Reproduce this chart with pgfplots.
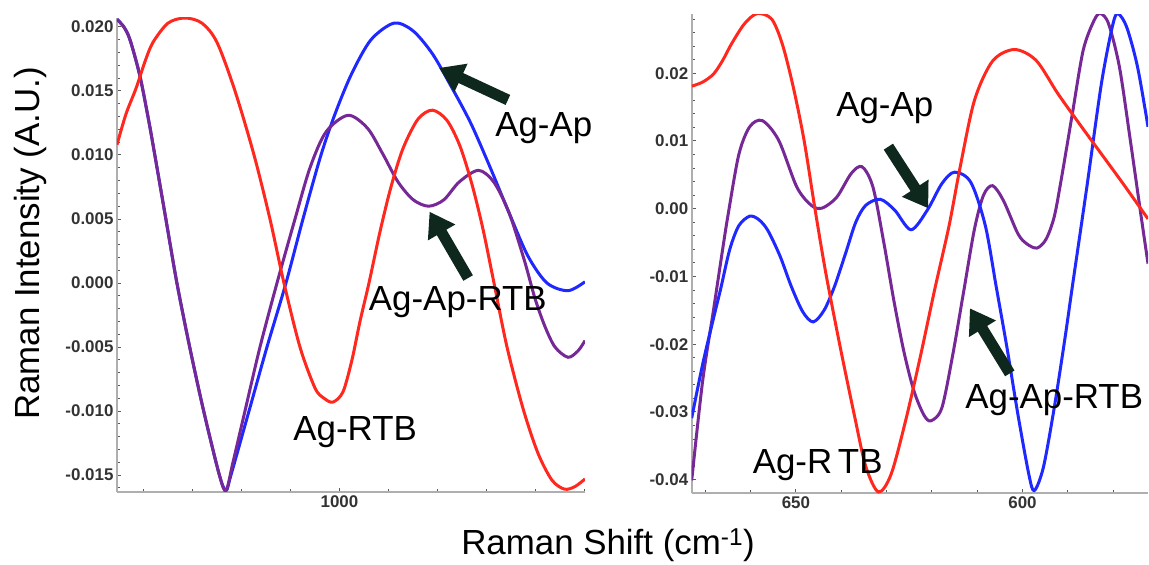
\documentclass[border=0pt]{standalone}
\usepackage{fontspec}
\setmainfont{Liberation Sans}
\usepackage{pgfplots}
\pgfplotsset{compat=1.18}
\usetikzlibrary{arrows.meta}
\definecolor{cred}{RGB}{255,40,30}
\definecolor{cblue}{RGB}{30,40,255}
\definecolor{cpurple}{RGB}{118,40,150}
\definecolor{carrow}{RGB}{15,40,30}
\definecolor{axgray}{RGB}{175,175,175}

\pgfplotsset{
  myaxis/.style={
    scale only axis, anchor=south west,
    x dir=reverse,
    scaled y ticks=false, scaled x ticks=false,
    axis x line*=bottom, axis y line*=left,
    axis line style={axgray, line width=2bp},
    tick align=inside,
    major tick length=4bp, minor tick length=3bp,
    every tick/.style={black!65, line width=1bp},
    tick label style={font=\fontsize{17}{20}\selectfont\bfseries, text=black!80},
    clip mode=individual,
    every axis plot/.append style={line width=3bp, smooth, no markers},
  },
}
\newcommand{\bigfont}{\fontsize{35}{40}\selectfont}
\tikzset{bigarrow/.style={carrow, line width=11bp, -{Triangle[width=30bp,length=24bp]}}}

\begin{document}
\begin{tikzpicture}
\path[use as bounding box] (0,0) rectangle (1149bp,565bp);

% ---------------- left panel ----------------
\begin{axis}[myaxis,
  at={(117bp,73.3bp)}, width=468bp, height=473.7bp,
  xmin=950, xmax=1045.3, ymin=-0.0163, ymax=0.0207,
  xtick={1000}, xticklabels={1000},
  minor xtick={950,960,970,980,990,1010,1020,1030,1040},
  ytick={-0.015,-0.010,-0.005,0,0.005,0.010,0.015,0.020},
  yticklabels={-0.015,-0.010,-0.005,0.000,0.005,0.010,0.015,0.020},
  minor ytick={-0.016,-0.014,-0.013,-0.012,-0.011,-0.009,-0.008,-0.007,-0.006,-0.004,-0.003,-0.002,-0.001,0.001,0.002,0.003,0.004,0.006,0.007,0.008,0.009,0.011,0.012,0.013,0.014,0.016,0.017,0.018,0.019},
]
% Ag-Ap (blue)
\addplot[cblue] coordinates {
(1045.30,0.0206) (1043.90,0.0200) (1042.65,0.0190) (1040.65,0.0162) (1038.85,0.0127)
(1037.60,0.0100) (1035.35,0.0050) (1033.10,0.0000) (1030.50,-0.0050) (1027.65,-0.0100)
(1024.45,-0.0150) (1023.10,-0.0162) (1022.09,-0.0150) (1018.42,-0.0100) (1014.76,-0.0050)
(1010.89,0.0000) (1007.43,0.0050) (1003.76,0.0100) (1000.71,0.0134) (997.45,0.0164)
(993.58,0.0190) (988.90,0.0203) (985.03,0.0197) (981.06,0.0179) (977.17,0.0153)
(973.28,0.0125) (969.39,0.0091) (965.48,0.0055) (961.61,0.0021) (957.74,0.0000)
(953.46,-0.0006) (950.00,0.0001)
};
% Ag-Ap-RTB (purple)
\addplot[cpurple] coordinates {
(1045.30,0.0206) (1043.90,0.0200) (1042.65,0.0190) (1040.65,0.0162) (1038.85,0.0127)
(1037.60,0.0100) (1035.35,0.0050) (1033.10,0.0000) (1030.50,-0.0050) (1027.65,-0.0100)
(1024.45,-0.0150) (1023.10,-0.0162) (1021.68,-0.0140) (1019.24,-0.0100) (1016.18,-0.0050)
(1012.72,0.0000) (1009.05,0.0050) (1006.00,0.0090) (1002.74,0.0118) (998.26,0.0131)
(994.31,0.0121) (991.20,0.0101) (988.08,0.0079) (984.97,0.0065) (981.85,0.0060)
(978.74,0.0065) (975.60,0.0079) (971.71,0.0088) (968.60,0.0079) (965.48,0.0055)
(962.37,0.0018) (960.19,-0.0012) (958.15,-0.0034) (956.11,-0.0050) (953.46,-0.0058)
(951.42,-0.0053) (950.00,-0.0045)
};
% Ag-RTB (red)
\addplot[cred] coordinates {
(1045.30,0.0108) (1043.47,0.0132) (1041.43,0.0152) (1039.60,0.0173) (1037.97,0.0188)
(1034.91,0.0203) (1031.46,0.0207) (1028.00,0.0203) (1024.94,0.0188) (1021.27,0.0150)
(1017.40,0.0100) (1014.15,0.0050) (1011.30,0.0000) (1008.04,-0.0050) (1004.98,-0.0082)
(1003.15,-0.0090) (1001.32,-0.0093) (999.28,-0.0085) (997.45,-0.0060) (995.82,-0.0030)
(993.99,0.0000) (991.75,0.0040) (989.51,0.0075) (987.07,0.0105) (984.01,0.0128)
(981.06,0.0135) (978.10,0.0127) (975.46,0.0107) (973.01,0.0077) (970.77,0.0042)
(968.53,0.0000) (965.88,-0.0050) (962.62,-0.0098) (959.57,-0.0133) (956.72,-0.0154)
(954.18,-0.0161) (952.04,-0.0159) (950.00,-0.0153)
};
\draw[bigarrow] (axis cs:965.7,0.0143) -- (axis cs:979.7,0.0168);
\draw[bigarrow] (axis cs:973.8,0.00039) -- (axis cs:981.65,0.00557);
\node[font=\bigfont] at (axis cs:958.4,0.0121) {Ag-Ap};
\node[font=\bigfont] at (axis cs:975.9,-0.00146) {Ag-Ap-RTB};
\node[font=\bigfont] at (axis cs:996.8,-0.01161) {Ag-RTB};
\end{axis}

% ---------------- right panel ----------------
\begin{axis}[myaxis,
  at={(691.7bp,71.7bp)}, width=456.3bp, height=479bp,
  xmin=572.3, xmax=673.0, ymin=-0.042, ymax=0.0287,
  xtick={600,650}, xticklabels={600,650},
  minor xtick={580,590,610,620,630,640,660,670},
  ytick={-0.04,-0.03,-0.02,-0.01,0,0.01,0.02},
  yticklabels={-0.04,-0.03,-0.02,-0.01,0.00,0.01,0.02},
  minor ytick={-0.042,-0.038,-0.036,-0.034,-0.032,-0.028,-0.026,-0.024,-0.022,-0.018,-0.016,-0.014,-0.012,-0.008,-0.006,-0.004,-0.002,0.002,0.004,0.006,0.008,0.012,0.014,0.016,0.018,0.022,0.024,0.026,0.028},
]
% Ag-Ap-RTB (purple)
\addplot[cpurple] coordinates {
(673.0,-0.0401) (670.6,-0.0255) (668.2,-0.0150) (666.4,-0.0070) (665.0,-0.0010)
(662.6,0.0080) (660.2,0.0121) (657.4,0.0130) (653.8,0.0101) (649.8,0.0032)
(646.6,0.0005) (644.2,0.0001) (641.0,0.0017) (637.8,0.0052) (635.4,0.0062)
(633.0,0.0032) (630.6,-0.0050) (628.4,-0.0135) (626.2,-0.0210) (624.0,-0.0268)
(621.8,-0.0304) (620.2,-0.0313) (617.8,-0.0294) (615.4,-0.0216) (613.0,-0.0123)
(610.6,-0.0030) (608.6,0.0020) (606.6,0.0034) (604.2,0.0012) (601.0,-0.0037)
(599.0,-0.0052) (596.8,-0.0058) (594.8,-0.0045) (593.0,-0.0012) (591.4,0.0045)
(589.0,0.0140) (586.6,0.0234) (584.2,0.0278) (582.8,0.0288) (581.0,0.0273)
(578.6,0.0209) (576.2,0.0101) (573.8,-0.0012) (572.3,-0.0081)
};
% Ag-Ap (blue)
\addplot[cblue] coordinates {
(673.0,-0.0309) (670.6,-0.0230) (668.2,-0.0162) (666.6,-0.0118) (664.6,-0.0060)
(662.6,-0.0025) (660.2,-0.0011) (658.2,-0.0016) (656.2,-0.0032) (653.5,-0.0070)
(651.0,-0.0115) (648.5,-0.0152) (646.2,-0.0167) (643.8,-0.0150) (641.5,-0.0115)
(639.0,-0.0065) (636.8,-0.0020) (634.6,0.0005) (631.4,0.0014) (628.2,-0.0002)
(624.6,-0.0031) (621.0,-0.0002) (617.8,0.0037) (615.0,0.0054) (611.4,0.0039)
(608.2,-0.0025) (605.8,-0.0115) (603.4,-0.0206) (601.0,-0.0304) (598.6,-0.0392)
(597.4,-0.0416) (595.4,-0.0382) (593.0,-0.0294) (590.6,-0.0190) (589.0,-0.0115)
(585.8,0.0032) (582.6,0.0184) (580.2,0.0268) (579.0,0.0288) (577.0,0.0268)
(574.6,0.0209) (572.3,0.0121)
};
% Ag-RTB (red)
\addplot[cred] coordinates {
(672.96,0.0181) (670.56,0.0187) (668.16,0.0199) (666.16,0.0219) (664.16,0.0244)
(661.36,0.0273) (658.56,0.0288) (655.36,0.0280) (653.0,0.0243) (650.6,0.0180)
(648.2,0.0101) (645.8,0.0) (643.4,-0.0095) (640.2,-0.0205) (637.0,-0.0308)
(634.6,-0.0380) (631.8,-0.0418) (629.0,-0.0392) (625.8,-0.0313) (622.6,-0.0220)
(619.4,-0.0120) (616.2,-0.0025) (613.8,0.0060) (610.6,0.0160) (606.6,0.0218)
(601.8,0.0235) (597.0,0.0219) (592.2,0.0170) (587.4,0.0125) (582.6,0.0081)
(577.8,0.0037) (572.3,-0.0015)
};
\draw[bigarrow] (axis cs:629.6,0.00916) -- (axis cs:620.8,0.00006);
\draw[bigarrow] (axis cs:602.8,-0.0243) -- (axis cs:611.6,-0.0147);
\node[font=\bigfont] at (axis cs:630.4,0.01483) {Ag-Ap};
\node[font=\bigfont] at (axis cs:593.0,-0.02823) {Ag-Ap-RTB};
\node[font=\bigfont] at (axis cs:645.2,-0.03782) {Ag-R\,TB};
\end{axis}

\node[rotate=90, font=\bigfont] at (30bp,321.5bp) {Raman Intensity (A.U.)};
\node[font=\bigfont] at (608bp,20bp) {Raman Shift (cm\textsuperscript{-1})};
\end{tikzpicture}
\end{document}
